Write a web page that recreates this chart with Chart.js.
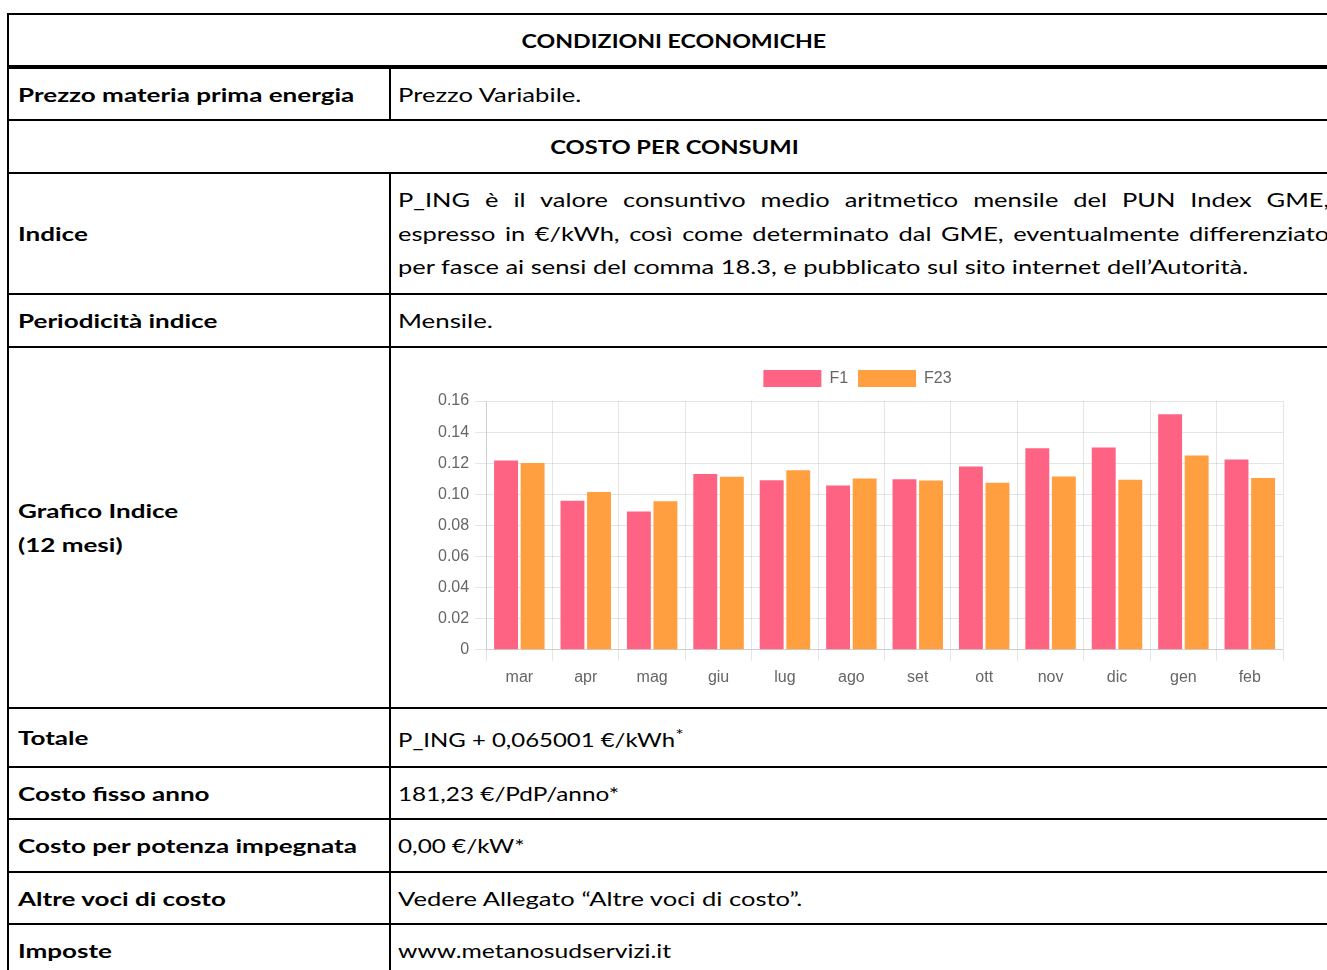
<!DOCTYPE html>
<html>
<head>
<meta charset="utf-8">
<script src="https://cdn.jsdelivr.net/npm/chart.js@4.4.0/dist/chart.umd.min.js"></script>
<style>
  html, body { margin: 0; padding: 0; background: #fff; overflow: hidden; }
  body { width: 1327px; height: 970px; position: relative; font-family: Lato, "Noto Sans", sans-serif; font-size: 19px; color: #000; }
  table { position: absolute; left: 7px; top: 13px; width: 1334px; border-collapse: collapse; table-layout: fixed; }
  td { border: 2px solid #000; padding: 0 9px; vertical-align: middle; white-space: nowrap; overflow: hidden; }
  td:nth-child(2) { padding-left: 7px; }
  td.lab { font-weight: bold; }
  td.head { text-align: center; font-weight: bold; padding-left: 9px; }
  tr.thick td { border-bottom-width: 4px; }
  .lines div { line-height: 33.5px; }
  .s { display: inline-block; transform: scaleX(var(--k, 1.34)); transform-origin: 0 50%; }
  .head .s { transform-origin: 50% 50%; }
  .lab .s { --k: 1.37; }
  .just { width: 695px; text-align: justify; text-align-last: justify; transform: scaleX(1.34); transform-origin: 0 50%; }
  #chartBox { position: absolute; left: 432px; top: 360px; width: 853px; height: 334px; }
</style>
</head>
<body>
<table>
  <colgroup><col style="width:382px"><col></colgroup>
  <tr class="thick" style="height:53px"><td class="head" colspan="2"><span class="s" style="--k:1.22">CONDIZIONI ECONOMICHE</span></td></tr>
  <tr style="height:53px"><td class="lab"><span class="s">Prezzo materia prima energia</span></td><td><span class="s" style="--k:1.35">Prezzo Variabile.</span></td></tr>
  <tr style="height:53px"><td class="head" colspan="2"><span class="s" style="--k:1.25">COSTO PER CONSUMI</span></td></tr>
  <tr style="height:121px"><td class="lab"><span class="s">Indice</span></td><td class="lines">
    <div class="just">P_ING è il valore consuntivo medio aritmetico mensile del PUN Index GME,</div>
    <div class="just">espresso in €/kWh, così come determinato dal GME, eventualmente differenziato</div>
    <div><span class="s">per fasce ai sensi del comma 18.3, e pubblicato sul sito internet dell’Autorità.</span></div>
  </td></tr>
  <tr style="height:53px"><td class="lab"><span class="s">Periodicità indice</span></td><td><span class="s" style="--k:1.36">Mensile.</span></td></tr>
  <tr style="height:361px"><td class="lab lines"><div><span class="s">Grafico Indice</span></div><div><span class="s">(12 mesi)</span></div></td><td></td></tr>
  <tr style="height:59px"><td class="lab"><span class="s">Totale</span></td><td><span class="s" style="--k:1.26">P_ING + 0,065001 €/kWh<sup>*</sup></span></td></tr>
  <tr style="height:52px"><td class="lab"><span class="s">Costo fisso anno</span></td><td><span class="s" style="--k:1.28">181,23 €/PdP/anno*</span></td></tr>
  <tr style="height:53px"><td class="lab"><span class="s">Costo per potenza impegnata</span></td><td><span class="s" style="--k:1.28">0,00 €/kW*</span></td></tr>
  <tr style="height:52px"><td class="lab"><span class="s">Altre voci di costo</span></td><td><span class="s" style="--k:1.345">Vedere Allegato “Altre voci di costo”.</span></td></tr>
  <tr style="height:53px"><td class="lab"><span class="s">Imposte</span></td><td><span class="s" style="--k:1.30">www.metanosudservizi.it</span></td></tr>
</table>
<div id="chartBox"><canvas id="chart"></canvas></div>
<script>
// dati del grafico indice (12 mesi)
var months = ['mar', 'apr', 'mag', 'giu', 'lug', 'ago', 'set', 'ott', 'nov', 'dic', 'gen', 'feb'];
var dataF1 = [0.1217, 0.0958, 0.0889, 0.1131, 0.1090, 0.1057, 0.1096, 0.1178, 0.1296, 0.1301, 0.1514, 0.1223];
var dataF23 = [0.1202, 0.1014, 0.0956, 0.1113, 0.1154, 0.1102, 0.1088, 0.1075, 0.1115, 0.1094, 0.1249, 0.1105];
var yMax = 0.16;
var yStep = 0.02;

Chart.defaults.font.family = '"Liberation Sans", Arial, sans-serif';
Chart.defaults.color = '#666';

// un po' di spazio sotto la legenda
var legendMargin = {
    id: 'legendMargin',
    beforeInit: function(chart) {
        var fit = chart.legend.fit;
        chart.legend.fit = function() {
            fit.bind(chart.legend)();
            this.height += 4;
        };
    }
};

var config = {
    type: 'bar',
    data: {
        labels: months,
        datasets: [
            {
                label: 'F1',
                data: dataF1,
                backgroundColor: 'rgb(255, 99, 132)',
                borderColor: 'rgb(255, 99, 132)',
                borderWidth: 0,
            },
            {
                label: 'F23',
                data: dataF23,
                backgroundColor: 'rgb(255, 159, 64)',
                borderColor: 'rgb(255, 159, 64)',
                borderWidth: 0,
            },
        ]
    },
    options: {
        responsive: true,
        maintainAspectRatio: false,
        animation: false,
        layout: { padding: { left: 0, right: 2, top: 0, bottom: 0 } },
        plugins: {
            legend: {
                position: 'top',
                labels: { boxWidth: 58, boxHeight: 17, padding: 10, font: { size: 16 } }
            },
            tooltip: { enabled: false }
        },
        scales: {
            x: {
                grid: { offset: true, tickLength: 11, color: 'rgba(0,0,0,0.1)' },
                border: { color: 'rgba(0,0,0,0.1)' },
                ticks: { font: { size: 16 }, padding: 7 }
            },
            y: {
                min: 0,
                max: yMax,
                grid: { tickLength: 11, color: 'rgba(0,0,0,0.1)' },
                border: { color: 'rgba(0,0,0,0.1)' },
                ticks: {
                    stepSize: yStep,
                    font: { size: 16 },
                    padding: 6,
                    callback: function(v) { return v === 0 ? '0' : v.toFixed(2); }
                }
            }
        }
    },
    plugins: [legendMargin]
};

var ctx = document.getElementById('chart').getContext('2d');
var chart = new Chart(ctx, config);
</script>
</body>
</html>
